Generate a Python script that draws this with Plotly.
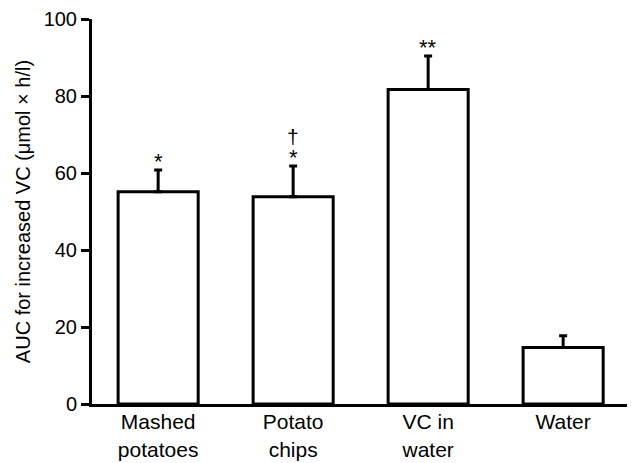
import plotly.graph_objects as go

categories = ["Mashed<br>potatoes", "Potato<br>chips", "VC in<br>water", "Water"]
values = [55.1, 53.8, 81.7, 14.7]
err_top = [60.8, 61.8, 90.4, 17.7]
sig_marks = ["*", "*", "**", ""]
dagger_marks = ["", "†", "", ""]
y_ticks = [0, 20, 40, 60, 80, 100]

errs = [t - v for t, v in zip(err_top, values)]
font = "Liberation Sans, Arial, sans-serif"

fig = go.Figure()
fig.add_trace(go.Bar(
    x=list(range(len(categories))), y=values,
    width=0.593,
    marker=dict(color="white", line=dict(color="black", width=3)),
    error_y=dict(type="data", symmetric=False, array=errs, arrayminus=[0] * len(values),
                 color="black", thickness=3, width=4),
))

for i, (m, d, t) in enumerate(zip(sig_marks, dagger_marks, err_top)):
    if m:
        fig.add_annotation(x=i, y=t, text=m, showarrow=False, yanchor="bottom",
                           yshift=-6, font=dict(size=22, color="black", family=font))
    if d:
        fig.add_annotation(x=i, y=t, text=d, showarrow=False, yanchor="bottom",
                           yshift=16, font=dict(size=21, color="black", family=font))

# page body has an 8px default margin; compensate so the plot lands where the reference has it
fig.update_layout(
    width=627, height=455,
    margin=dict(l=84, r=3, t=11, b=59),
    plot_bgcolor="white", paper_bgcolor="white",
    showlegend=False,
    font=dict(family=font, color="black", size=20),
    xaxis=dict(range=[-0.49, 3.51], tickmode="array", tickvals=list(range(len(categories))),
               ticktext=categories, showgrid=False, zeroline=False, automargin=False,
               showline=True, linecolor="black", linewidth=3, ticks="",
               ticklabelstandoff=-3, tickfont=dict(size=21)),
    yaxis=dict(range=[0, 100], tickvals=y_ticks, showgrid=False, zeroline=False, automargin=False,
               showline=True, linecolor="black", linewidth=3, ticks="outside",
               ticklen=8, tickwidth=3, tickcolor="black", tickfont=dict(size=20),
               title=dict(text="AUC for increased VC (μmol × h/l)", font=dict(size=20), standoff=8)),
)

fig.write_html("out.html")
